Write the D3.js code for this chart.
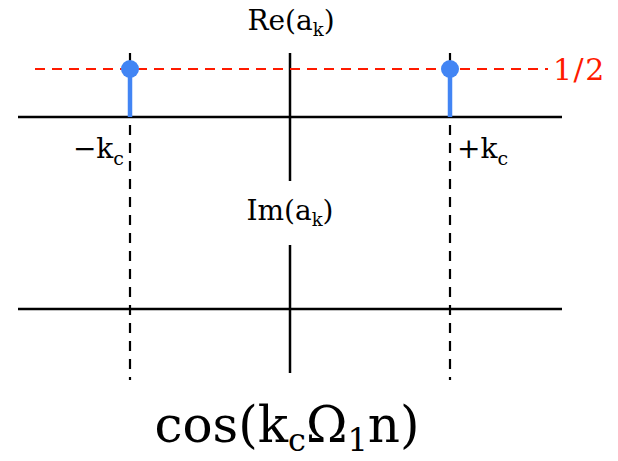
<!DOCTYPE html>
<html>
<head>
<meta charset="utf-8">
<script src="https://cdn.jsdelivr.net/npm/d3@7"></script>
<style>
  html, body { margin: 0; padding: 0; background: #fff; }
  svg text { font-family: "DejaVu Serif", serif; }
</style>
</head>
<body>
<svg id="chart" width="618" height="461"></svg>
<script>
// Fourier coefficients of cos(k_c Ω_1 n): a_k = 1/2 at k = ±k_c, purely real.
const kValues = [-1, 1];          // in units of k_c
const reValues = [0.5, 0.5];
const imValues = [0, 0];
const kLabels = ["−k", "+k"];
const levelLabel = "1/2";
const levelValue = 0.5;

const svg = d3.select("#chart");

const x = d3.scaleLinear().domain([-1.7, 1.7]).range([18, 562]);
const yRe = d3.scaleLinear().domain([-2 / 3, 2 / 3]).range([181, 53]);
const yIm = d3.scaleLinear().domain([-2 / 3, 2 / 3]).range([373, 245]);

const blue = "#4285f4";
const red = "#ff1a00";

// Dashed guides through ±k_c spanning both panels
svg.selectAll("line.guide").data(kValues).join("line")
  .attr("class", "guide")
  .attr("x1", d => x(d)).attr("x2", d => x(d))
  .attr("y1", yRe.range()[1]).attr("y2", 380)
  .attr("stroke", "#000").attr("stroke-width", 2.2)
  .attr("stroke-dasharray", "10,8");

// Axes for a panel
function drawAxes(y) {
  svg.append("line")
    .attr("x1", x.range()[0]).attr("x2", x.range()[1])
    .attr("y1", y(0)).attr("y2", y(0))
    .attr("stroke", "#000").attr("stroke-width", 2.5);
  svg.append("line")
    .attr("x1", x(0)).attr("x2", x(0))
    .attr("y1", y.range()[1]).attr("y2", y.range()[0])
    .attr("stroke", "#000").attr("stroke-width", 2.5);
}
drawAxes(yRe);
drawAxes(yIm);

// Reference level at 1/2
svg.append("line")
  .attr("x1", 35).attr("x2", 548)
  .attr("y1", yRe(levelValue)).attr("y2", yRe(levelValue))
  .attr("stroke", red).attr("stroke-width", 2)
  .attr("stroke-dasharray", "10,7");
svg.append("text")
  .attr("x", 553).attr("y", yRe(levelValue) + 11)
  .attr("font-size", 30).attr("letter-spacing", 1.5).attr("fill", red)
  .text(levelLabel);

// Stems of Re(a_k)
const stems = kValues.map((k, i) => ({ k, v: reValues[i] }));
svg.selectAll("line.stem").data(stems).join("line")
  .attr("class", "stem")
  .attr("x1", d => x(d.k)).attr("x2", d => x(d.k))
  .attr("y1", yRe(0)).attr("y2", d => yRe(d.v))
  .attr("stroke", blue).attr("stroke-width", 4.5);
svg.selectAll("circle.tip").data(stems).join("circle")
  .attr("class", "tip")
  .attr("cx", d => x(d.k)).attr("cy", d => yRe(d.v))
  .attr("r", 9).attr("fill", blue);

// Im(a_k) is zero everywhere: no stems drawn
svg.selectAll("line.imstem").data(kValues.map((k, i) => ({ k, v: imValues[i] })).filter(d => d.v !== 0))
  .join("line").attr("class", "imstem")
  .attr("x1", d => x(d.k)).attr("x2", d => x(d.k))
  .attr("y1", yIm(0)).attr("y2", d => yIm(d.v))
  .attr("stroke", blue).attr("stroke-width", 4.5);

// Panel label with subscript k
function panelLabel(prefix, cx, baseline) {
  const t = svg.append("text").attr("x", cx).attr("y", baseline)
    .attr("text-anchor", "middle").attr("font-size", 28);
  t.append("tspan").text(prefix + "(a");
  t.append("tspan").attr("font-size", 18).attr("dy", 6).text("k");
  t.append("tspan").attr("dy", -6).text(")");
}
panelLabel("Re", 291, 30);
panelLabel("Im", 290, 220);

// Tick labels at ±k_c
svg.selectAll("text.klabel").data(kValues).join("text")
  .attr("class", "klabel")
  .attr("x", d => d < 0 ? x(d) - 6 : x(d) + 7)
  .attr("y", 158)
  .attr("text-anchor", d => d < 0 ? "end" : "start")
  .attr("font-size", 28)
  .each(function (d, i) {
    const t = d3.select(this);
    t.append("tspan").text(kLabels[i]);
    t.append("tspan").attr("font-size", 19).attr("dy", 7).text("c");
  });

// Signal label
const title = svg.append("text").attr("x", 287).attr("y", 442)
  .attr("text-anchor", "middle").attr("font-size", 50);
title.append("tspan").text("cos(k");
title.append("tspan").attr("font-size", 32).attr("dy", 9).text("c");
title.append("tspan").attr("dy", -9).text("Ω");
title.append("tspan").attr("font-size", 32).attr("dy", 9).text("1");
title.append("tspan").attr("dy", -9).text("n)");
</script>
</body>
</html>
